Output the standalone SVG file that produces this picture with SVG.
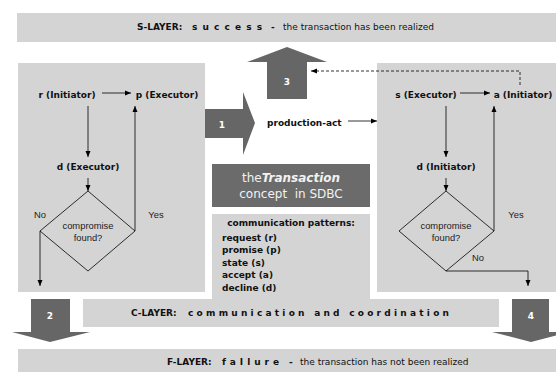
<svg xmlns="http://www.w3.org/2000/svg" width="556" height="372" viewBox="0 0 556 372">
<defs>
<marker id="ah" viewBox="0 0 6 6" refX="6" refY="3" markerWidth="6" markerHeight="6" markerUnits="userSpaceOnUse" orient="auto">
<path d="M0,0.5 L6,3 L0,5.5 Z" fill="#000"/>
</marker>
<style>
.bar{fill:#d4d4d4}
.dark{fill:#666666}
.b{font-family:"DejaVu Sans",Verdana,sans-serif;font-weight:bold;font-size:9px;fill:#111}
.n{font-family:"DejaVu Sans",Verdana,sans-serif;font-size:9px;fill:#111}
.a{font-family:"Liberation Sans",Arial,sans-serif;font-size:9.4px;fill:#222}
.num{font-family:"DejaVu Sans",Verdana,sans-serif;font-weight:bold;font-size:9px;fill:#fff;text-anchor:middle}
.c{text-anchor:middle}
.ln{stroke:#000;stroke-width:0.8;fill:none}
.arr{marker-end:url(#ah)}
.dg{stroke:#000;stroke-width:0.8;fill:#d4d4d4}
</style>
</defs>

<g id="s-layer">
<rect class="bar" x="17" y="13" width="539" height="29"/>
<text y="30" class="b"><tspan x="137">S-LAYER:</tspan><tspan x="192" textLength="70" lengthAdjust="spacing">success</tspan><tspan x="271">-</tspan><tspan x="283" class="n" style="font-weight:normal">the transaction has been realized</tspan></text>
</g>

<g id="left-panel">
<rect class="bar" x="18" y="63" width="187" height="229"/>
</g>
<g id="right-panel">
<rect class="bar" x="377" y="63" width="179" height="229"/>
</g>

<g id="arrow-1">
<polygon class="dark" points="205,109 243,109 243,92 255,123 243,155 243,138 205,138"/>
<text x="222" y="128" class="num">1</text>
</g>
<g id="arrow-3">
<polygon class="dark" points="267,99 267,62 247,62 287,47 327,62 307,62 307,99"/>
<text x="287" y="85" class="num">3</text>
</g>

<g id="transaction-box">
<rect x="212" y="164" width="158" height="43" fill="#6b6b6b"/>
<text x="291" y="182" class="c" style="font-family:'DejaVu Sans',Verdana,sans-serif;font-size:12px;fill:#f2f2f2">the<tspan font-weight="bold" font-style="italic">Transaction</tspan></text>
<text x="291" y="198" class="c" style="font-family:'DejaVu Sans',Verdana,sans-serif;font-size:12px;fill:#f2f2f2" xml:space="preserve">concept  in SDBC</text>
</g>

<g id="patterns-box">
<rect class="bar" x="212" y="214" width="158" height="85"/>
<text x="291" y="226" class="b c">communication patterns:</text>
<text x="222" y="241" class="b">request (r)</text>
<text x="222" y="253" class="b">promise (p)</text>
<text x="222" y="266" class="b">state (s)</text>
<text x="222" y="278" class="b">accept (a)</text>
<text x="222" y="291" class="b">decline (d)</text>
</g>

<g id="c-layer">
<rect class="bar" x="83" y="299" width="416" height="28"/>
<text y="316" class="b"><tspan x="131">C-LAYER:</tspan><tspan x="188" textLength="261" lengthAdjust="spacing">communication and coordination</tspan></text>
</g>

<g id="arrow-2">
<polygon class="dark" points="31,299 70,299 70,332 90,332 50,342 12,332 31,332"/>
<text x="50" y="319" class="num">2</text>
</g>
<g id="arrow-4">
<polygon class="dark" points="512,299 549,299 549,332 570,332 531,342 492,332 512,332"/>
<text x="531" y="319" class="num">4</text>
</g>

<g id="f-layer">
<rect class="bar" x="18" y="349" width="538" height="23"/>
<text y="365" class="b"><tspan x="167">F-LAYER:</tspan><tspan x="222" textLength="57" lengthAdjust="spacing">faIlure</tspan><tspan x="289">-</tspan><tspan x="300" style="font-weight:normal">the transaction has not been realized</tspan></text>
</g>

<g id="node-r">
<text x="67" y="98" class="b c">r (Initiator)</text>
</g>
<g id="node-p">
<text x="167" y="98" class="b c">p (Executor)</text>
</g>
<g id="node-d-left">
<text x="88" y="170" class="b c">d (Executor)</text>
</g>
<g id="decision-left">
<polygon class="dg" points="88,191 135,231 88,271 40,231"/>
<text x="88" y="229" class="a c">compromise</text>
<text x="88" y="241" class="a c">found?</text>
</g>

<g id="node-s">
<text x="426" y="98" class="b c">s (Executor)</text>
</g>
<g id="node-a">
<text x="523" y="98" class="b c">a (Initiator)</text>
</g>
<g id="node-d-right">
<text x="446" y="170" class="b c">d (Initiator)</text>
</g>
<g id="decision-right">
<polygon class="dg" points="446,191 494,231 446,271 399,231"/>
<text x="446" y="229" class="a c">compromise</text>
<text x="446" y="241" class="a c">found?</text>
</g>

<g id="production-act">
<text x="267" y="126" class="b">production-act</text>
</g>

<g id="connectors">
<line class="ln arr" x1="102" y1="93" x2="131" y2="93"/>
<line class="ln arr" x1="88" y1="106" x2="88" y2="157"/>
<line class="ln arr" x1="88" y1="178" x2="88" y2="191"/>
<line class="ln arr" x1="135" y1="231" x2="135" y2="106"/>
<line class="ln arr" x1="40" y1="231" x2="40" y2="286"/>
<line class="ln arr" x1="460" y1="93" x2="490" y2="93"/>
<line class="ln arr" x1="446" y1="106" x2="446" y2="157"/>
<line class="ln arr" x1="446" y1="178" x2="446" y2="191"/>
<line class="ln arr" x1="494" y1="231" x2="494" y2="106"/>
<polyline class="ln arr" points="446,271 528,271 528,286"/>
<line class="ln arr" x1="348" y1="121" x2="377" y2="121"/>
<polyline class="ln arr" points="520,85 520,71 311,71" stroke-dasharray="3,2"/>
<text x="40" y="218" class="a c">No</text>
<text x="156" y="218" class="a c">Yes</text>
<text x="516" y="218" class="a c">Yes</text>
<text x="478" y="261" class="a c">No</text>
</g>
</svg>
